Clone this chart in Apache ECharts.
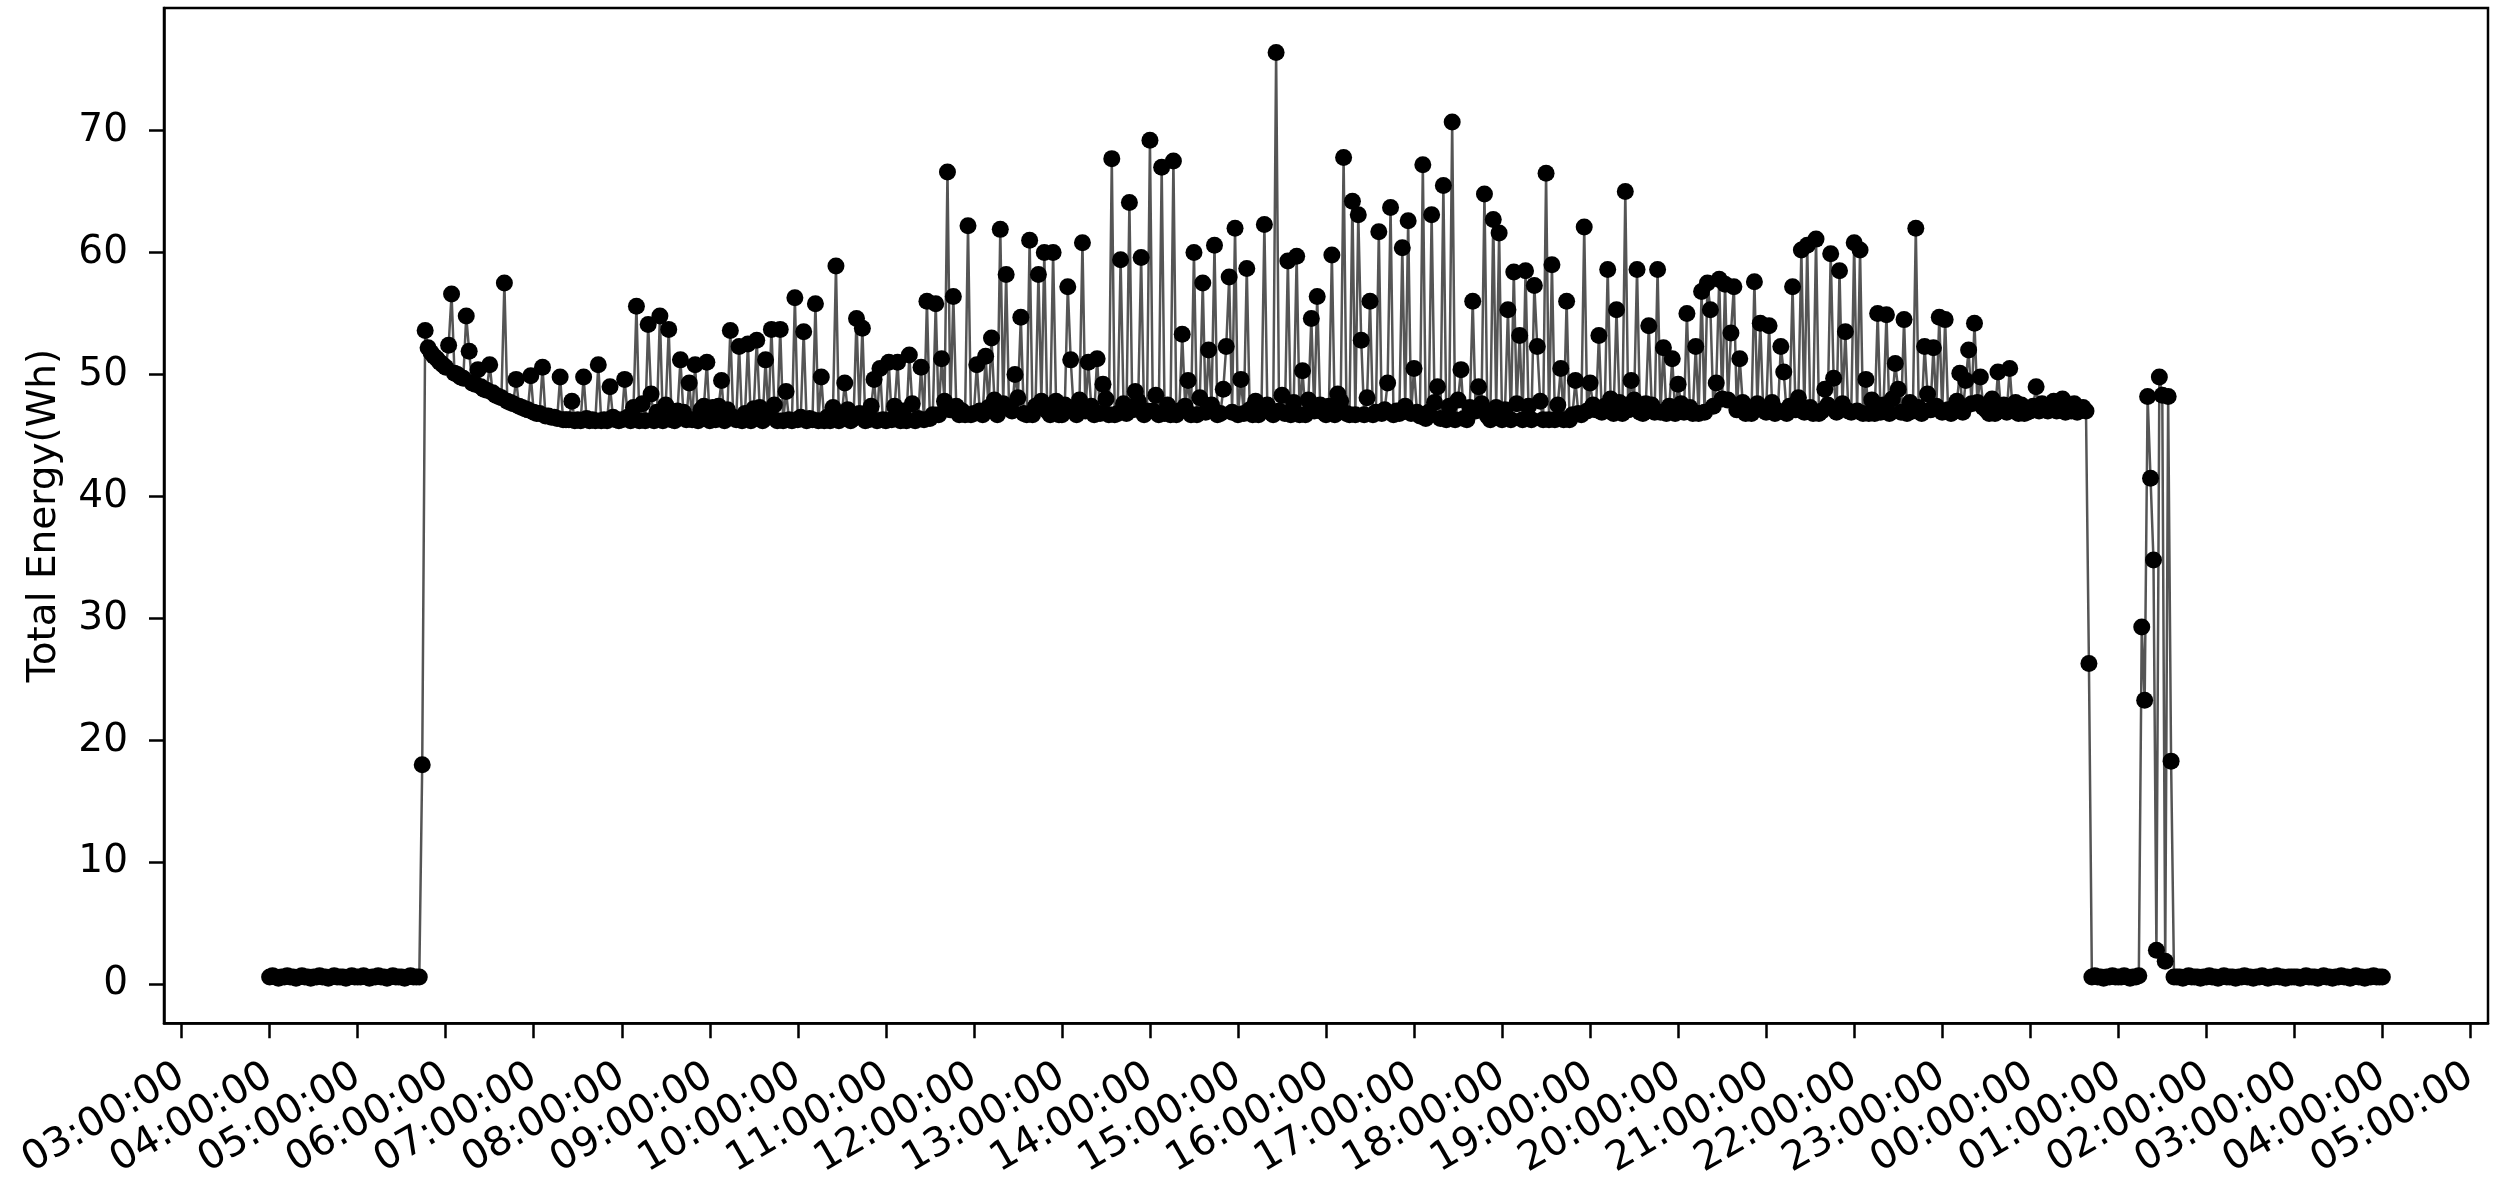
<!DOCTYPE html>
<html>
<head>
<meta charset="utf-8">
<script src="https://cdn.jsdelivr.net/npm/echarts@6/dist/echarts.min.js"></script>
<style>
  html, body { margin: 0; padding: 0; background: #fff; }
  #chart-container { width: 2508px; height: 1182px; }
</style>
</head>
<body>
<div id="chart-container"></div>
<script>
// Lecturas cada 2 minutos, una lista por hora (de 04:00 del día 1 a 03:58 del día 2)
const hour04 = [0.6,0.7,0.6,0.5,0.6,0.6,0.7,0.6,0.6,0.5, 0.6,0.7,0.6,0.6,0.5,0.6,0.6,0.7,0.6,0.6, 0.5,0.6,0.7,0.6,0.6,0.6,0.5,0.6,0.7,0.6];
const hour05 = [0.6,0.6,0.7,0.6,0.5,0.6,0.6,0.7,0.6,0.6, 0.5,0.6,0.7,0.6,0.6,0.6,0.5,0.6,0.7,0.6, 0.6,0.6,18.0,53.6,52.2,51.8,51.5,51.3,51.0,50.8];
const hour06 = [50.6,50.4,50.3,50.1,50.0,49.8,49.7,49.6,49.5,49.3, 49.2,49.1,49.0,48.8,48.7,48.6,48.5,48.3,48.2,48.1, 48.0,47.8,47.7,47.6,47.5,47.4,47.3,47.2,47.1,47.0];
const hour07 = [46.9,46.8,46.8,46.7,46.6,46.6,46.5,46.5,46.4,46.4, 46.3,46.3,46.3,46.2,46.2,46.3,46.2,46.2,46.4,46.2, 46.3,46.2,46.6,46.2,46.3,46.2,46.2,46.5,46.3,46.2];
const hour08 = [46.3,46.9,46.5,46.2,47.3,46.8,46.2,47.6,46.2,46.6, 47.2,46.2,46.9,46.5,46.2,47.5,46.6,46.3,46.2,47.0, 46.2,46.9,46.3,47.7,46.3,46.5,46.2,47.1,47.4,46.2];
const hour09 = [46.2,46.9,46.3,47.4,46.7,46.2,47.1,46.2,46.5,46.3, 47.6,46.2,46.8,46.3,46.2,47.2,46.2,47.3,46.2,46.8, 46.5,46.2,47.5,46.2,46.6,46.2,47.0,46.3,46.2,46.9];
const hour10 = [46.3,46.5,47.2,46.2,46.4,46.3,47.0,46.2,47.6,46.2, 46.5,46.2,47.3,46.3,46.2,46.7,46.2,47.1,46.2,46.4, 46.2,46.8,47.5,46.2,46.3,47.4,46.2,46.2,46.9,46.3];
const hour11 = [46.2,46.9,46.3,47.4,46.6,46.2,47.0,46.2,46.5,47.6, 46.2,46.4,47.1,46.3,46.5,46.4,46.7,47.5,46.7,46.9, 47.8,46.8,47.1,46.7,47.4,46.7,47.0,46.7,48.0,46.7];
const hour12 = [46.8,47.5,47.0,46.7,46.8,47.3,46.7,47.9,46.7,46.8, 47.6,46.7,47.2,47.0,46.7,48.1,47.1,46.8,46.7,47.4, 46.7,47.4,46.8,47.8,46.8,47.0,46.7,47.3,47.8,46.7];
const hour13 = [46.7,47.5,46.8,46.7,47.2,46.7,47.9,46.7,47.0,46.8, 47.4,46.7,47.3,46.8,46.7,48.0,46.7,47.7,46.7,46.8, 47.0,47.6,46.8,46.7,47.1,46.7,47.8,46.8,46.7,47.0];
const hour14 = [46.8,47.0,47.6,46.7,46.9,46.8,47.5,46.7,47.9,46.7, 47.0,46.7,47.4,46.8,46.7,47.2,46.7,48.1,46.7,46.9, 46.7,47.5,47.9,46.7,46.8,47.0,46.7,47.6,46.9,46.8];
const hour15 = [46.7,47.6,46.8,46.7,47.1,46.7,47.8,46.7,47.0,46.8, 47.5,46.9,46.7,48.0,47.0,46.7,46.8,47.4,46.7,47.7, 46.9,46.7,47.2,46.7,47.9,46.7,47.0,46.8,47.5,46.9];
const hour16 = [46.7,47.4,47.0,46.7,46.9,47.8,47.3,46.8,46.7,47.5, 46.7,46.8,47.6,46.7,48.1,47.0,46.7,46.9,47.7,46.8, 47.1,46.7,47.5,46.7,47.0,46.8,47.9,47.4,46.7,46.8];
const hour17 = [46.4,46.9,46.6,47.5,46.4,46.9,46.3,47.7,46.3,46.4, 47.2,46.3,47.4,46.6,46.3,47.9,46.7,46.4,46.3,47.3, 46.3,47.0,46.4,47.6,46.4,46.6,46.3,47.2,47.3,46.3];
const hour18 = [46.3,47.1,46.4,46.3,46.8,47.6,46.4,46.3,46.6,47.4, 46.3,46.3,46.9,47.8,46.3,46.5,46.3,47.2,46.3,47.5, 46.6,46.3,47.3,46.3,46.7,47.4,46.8,46.7,47.6,47.0];
const hour19 = [46.8,47.5,47.1,46.8,46.9,47.4,46.8,48.0,46.8,46.9, 47.7,46.8,47.3,47.1,46.8,47.9,47.2,46.9,46.8,47.6, 46.8,47.5,46.9,48.1,46.9,47.1,46.8,47.4,47.8,46.8];
const hour20 = [46.8,47.6,46.9,46.8,47.3,46.8,47.9,46.8,47.1,46.9, 47.5,46.8,47.4,46.9,46.8,48.0,46.8,47.9,46.8,47.3, 47.1,46.8,47.7,46.8,47.2,46.8,47.0,47.6,46.8,47.1];
const hour21 = [46.9,47.1,47.7,46.8,47.0,46.9,47.6,46.8,47.4,46.8, 47.1,48.1,47.0,46.9,46.8,47.3,46.8,47.8,46.8,47.0, 46.8,47.5,48.0,46.8,46.9,47.1,47.6,46.8,47.0,46.9];
const hour22 = [46.8,47.0,47.6,46.8,47.2,46.8,47.9,46.8,47.1,46.9, 47.5,47.0,46.8,48.0,47.1,46.8,46.9,47.5,46.8,47.7, 47.0,46.8,47.3,46.8,47.8,46.8,47.1,46.9,47.4,47.0];
const hour23 = [46.9,47.5,47.1,46.8,47.0,47.8,47.4,46.9,46.8,47.0, 47.6,46.9,47.7,46.8,47.3,47.1,46.8,48.0,46.8,46.9, 47.2,47.5,46.9,46.8,47.1,47.7,46.8,47.5,46.8,46.9];
const hour00 = [47.0,47.4,47.2,47.0,47.6,47.1,47.0,47.3,47.8,47.0, 47.1,47.5,46.9,47.2,47.0,47.6,46.9,47.1,47.3,47.0, 26.3,0.6,0.7,0.6,0.6,0.5,0.6,0.6,0.7,0.6];
const hour01 = [0.6,0.6,0.7,0.6,0.5,0.6,0.6,0.7,0.6,0.6, 0.5,0.6,0.7,0.6,0.6,0.6,0.5,0.6,0.7,0.6, 0.6,0.6,0.5,0.6,0.7,0.6,0.6,0.6,0.5,0.6];
const hour02 = [0.6,0.7,0.6,0.6,0.5,0.6,0.7,0.6,0.6,0.6, 0.5,0.6,0.6,0.7,0.6,0.6,0.5,0.6,0.6,0.7, 0.6,0.5,0.6,0.6,0.7,0.6,0.6,0.5,0.6,0.6];
const hour03 = [0.6,0.6,0.5,0.6,0.7,0.6,0.6,0.6,0.5,0.6, 0.7,0.6,0.6,0.5,0.6,0.6,0.7,0.6,0.6,0.5, 0.6,0.7,0.6,0.6,0.5,0.6,0.6,0.7,0.6,0.6];
const lastReading = 0.6; // 04:00 del día 2

// Picos de consumo (hora de la lectura y valor en Wh)
const spikeTimes = [
  '06:02','06:04','06:14','06:16','06:22','06:30','06:40','06:48','06:58','07:06','07:18','07:26','07:34','07:44','07:52',
  '08:02','08:10','08:18','08:20','08:26','08:32','08:40','08:46','08:50','08:58',
  '09:02','09:08','09:14','09:20','09:26','09:32','09:38','09:42','09:48','09:52','09:58',
  '10:04','10:12','10:16','10:26','10:32','10:40','10:44','10:52','10:56',
  '11:02','11:08','11:16','11:24','11:28','11:34','11:38','11:42','11:46','11:56',
  '12:02','12:08','12:12','12:18','12:22','12:28','12:32','12:38','12:44','12:48','12:54',
  '13:04','13:06','13:14','13:18','13:24','13:28','13:34','13:40','13:46','13:50','13:54',
  '14:00','14:04','14:08','14:16','14:22','14:26','14:30','14:36','14:40','14:44','14:50','14:52','14:54','14:58',
  '15:02','15:06','15:18','15:26','15:30','15:34','15:40','15:44','15:50','15:54',
  '16:04','16:08','16:12','16:18','16:22','16:24','16:30','16:36','16:42','16:44','16:52','16:56',
  '17:00','17:06','17:12','17:16','17:20','17:26','17:32','17:40','17:44','17:48','17:54','17:58',
  '18:04','18:08','18:12','18:16','18:22','18:24','18:30','18:34','18:40','18:44','18:50','18:56',
  '19:00','19:06','19:12','19:18','19:24','19:28','19:32','19:40','19:46','19:50','19:56',
  '20:00','20:06','20:12','20:16','20:20','20:22','20:26','20:28','20:32','20:36','20:38','20:42','20:52','20:56',
  '21:02','21:10','21:12','21:18','21:24','21:28','21:34','21:40','21:44','21:46','21:50','21:54',
  '22:00','22:04','22:08','22:16','22:22','22:28','22:30','22:34','22:42','22:48','22:50','22:54','22:58',
  '23:02','23:12','23:16','23:18','23:22','23:26','23:38','23:46',
  '00:04','00:22',
  '01:16','01:18','01:20','01:22','01:24','01:26','01:28','01:30','01:32','01:34','01:36'
];
const spikeValues = [
  52.4,56.6,54.8,51.9,50.4,50.8,57.5,49.6,49.9,50.6,49.8,47.8,49.8,50.8,49.0,
  49.6,55.6,54.1,48.4,54.8,53.7,51.2,49.3,50.8,51.0,
  47.3,49.5,53.6,52.3,52.5,52.8,51.2,53.7,53.7,48.6,56.3,
  53.5,55.8,49.8,58.9,49.3,54.6,53.8,49.6,50.5,
  51.0,51.0,51.6,50.6,56.0,55.8,51.3,66.6,56.4,62.2,
  50.8,51.5,53.0,61.9,58.2,50.0,54.7,61.0,58.2,60.0,60.0,
  57.2,51.2,60.8,51.0,51.3,49.2,67.7,59.4,64.1,48.6,59.6,
  69.2,48.3,67.0,67.5,53.3,49.5,60.0,57.5,52.0,60.6,48.8,52.3,58.0,62.0,
  49.6,58.7,62.3,76.4,48.3,59.3,59.7,50.3,54.6,56.4,
  59.8,48.4,67.8,64.2,63.1,52.8,56.0,61.7,49.3,63.7,60.4,62.6,
  50.5,67.2,63.1,49.0,65.5,70.7,50.4,56.0,49.0,64.8,62.7,61.6,
  55.3,58.4,53.2,58.5,57.3,52.3,66.5,59.0,50.5,56.0,49.5,62.1,
  49.3,53.2,58.6,55.3,65.0,49.5,58.6,54.0,58.6,52.2,51.3,
  49.2,55.0,52.3,56.8,57.5,55.3,49.3,57.8,57.4,53.4,57.2,51.3,57.6,54.2,
  54.0,52.3,50.2,57.2,60.2,60.6,61.1,48.8,59.9,49.7,58.5,53.5,
  60.8,60.2,49.6,55.0,54.9,50.9,48.8,54.5,62.0,52.3,48.4,52.2,54.7,
  54.5,50.1,49.5,52.0,54.2,49.8,50.2,50.5,
  49.0,48.0,
  29.3,23.3,48.2,41.5,34.8,2.8,49.8,48.3,1.9,48.2,18.3
];

const tickLabels = ['03:00:00','04:00:00','05:00:00','06:00:00','07:00:00','08:00:00','09:00:00','10:00:00','11:00:00',
  '12:00:00','13:00:00','14:00:00','15:00:00','16:00:00','17:00:00','18:00:00','19:00:00','20:00:00','21:00:00',
  '22:00:00','23:00:00','00:00:00','01:00:00','02:00:00','03:00:00','04:00:00','05:00:00'];
const yTicks = [0, 10, 20, 30, 40, 50, 60, 70];

// Minutos desde las 04:00 del día 1
const hourly = [hour04, hour05, hour06, hour07, hour08, hour09, hour10, hour11, hour12, hour13, hour14, hour15,
  hour16, hour17, hour18, hour19, hour20, hour21, hour22, hour23, hour00, hour01, hour02, hour03];
const data = [];
hourly.forEach((values, h) => values.forEach((v, i) => data.push([h * 60 + i * 2, v])));
data.push([1440, lastReading]);
spikeTimes.forEach((t, k) => {
  const [hh, mm] = t.split(':').map(Number);
  let m = hh * 60 + mm - 240;
  if (m < 0) m += 1440;
  data[m / 2][1] = spikeValues[k];
});

const tickMinutes = tickLabels.map((_, i) => (i - 1) * 60);

const chartDom = document.getElementById('chart-container');
const myChart = echarts.init(chartDom);

const option = {
  animation: false,
  backgroundColor: '#fff',
  textStyle: { fontFamily: 'DejaVu Sans' },
  grid: {
    left: 164, right: 20, top: 8, bottom: 155,
    show: true, borderColor: '#000', borderWidth: 2.5, backgroundColor: 'transparent'
  },
  xAxis: {
    type: 'value',
    min: -72,
    max: 1512,
    axisLine: { show: true, onZero: false, lineStyle: { color: '#000', width: 2.5 } },
    axisTick: { show: true, length: 15, customValues: tickMinutes, lineStyle: { color: '#000', width: 2.5 } },
    axisLabel: {
      customValues: tickMinutes,
      rotate: 30,
      margin: 50,
      fontSize: 40,
      color: '#000',
      formatter: v => tickLabels[tickMinutes.indexOf(v)]
    },
    splitLine: { show: false }
  },
  yAxis: {
    type: 'value',
    min: -3.2,
    max: 80.05,
    name: 'Total Energy(Wh)',
    nameLocation: 'middle',
    nameRotate: 90,
    nameGap: 100,
    nameTextStyle: { fontSize: 39, color: '#000' },
    axisLine: { show: true, onZero: false, lineStyle: { color: '#000', width: 2.5 } },
    axisTick: { show: true, length: 15, customValues: yTicks, lineStyle: { color: '#000', width: 2.5 } },
    axisLabel: { customValues: yTicks, margin: 36, fontSize: 39, color: '#000' },
    splitLine: { show: false }
  },
  series: [{
    name: 'Total Energy',
    type: 'line',
    data: data,
    symbol: 'circle',
    symbolSize: 17,
    showSymbol: true,
    showAllSymbol: true,
    itemStyle: { color: '#000' },
    lineStyle: { color: '#555', width: 2.5 },
    emphasis: { disabled: true }
  }]
};

myChart.setOption(option);
</script>
</body>
</html>
